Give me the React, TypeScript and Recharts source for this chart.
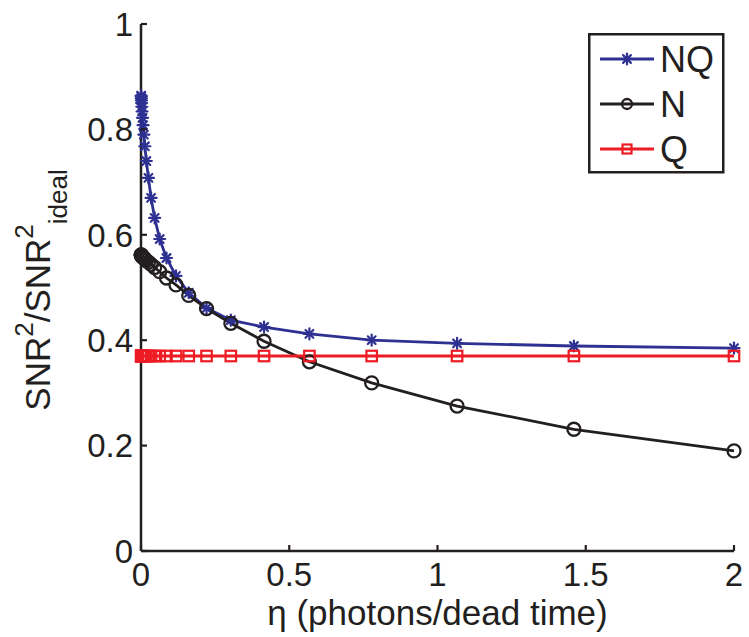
import React from 'react';
import { LineChart, Line, XAxis, YAxis } from 'recharts';

// eta (photons / dead time)
const X_VALUES = [0.0006, 0.0008, 0.0011, 0.0015, 0.002, 0.0027, 0.0037, 0.0051, 0.007, 0.0096, 0.013, 0.018, 0.025, 0.034, 0.046, 0.063, 0.086, 0.118, 0.161, 0.221, 0.303, 0.415, 0.568, 0.778, 1.066, 1.46, 2.0];
const NQ_VALUES = [0.864, 0.862, 0.859, 0.855, 0.85, 0.843, 0.834, 0.822, 0.808, 0.79, 0.768, 0.74, 0.708, 0.67, 0.632, 0.592, 0.556, 0.522, 0.49, 0.461, 0.438, 0.425, 0.412, 0.4, 0.394, 0.389, 0.385];
const N_VALUES = [0.562, 0.562, 0.561, 0.561, 0.56, 0.56, 0.559, 0.558, 0.557, 0.556, 0.554, 0.551, 0.548, 0.544, 0.538, 0.53, 0.518, 0.505, 0.485, 0.46, 0.432, 0.398, 0.359, 0.319, 0.275, 0.231, 0.19];
const Q_VALUES = [0.37, 0.37, 0.37, 0.37, 0.37, 0.37, 0.37, 0.37, 0.37, 0.37, 0.37, 0.37, 0.37, 0.37, 0.37, 0.37, 0.37, 0.37, 0.37, 0.37, 0.37, 0.37, 0.37, 0.37, 0.37, 0.37, 0.37];
const X_TICKS = [0, 0.5, 1, 1.5, 2];
const Y_TICKS = [0, 0.2, 0.4, 0.6, 0.8, 1];
const SERIES_NAMES = ['NQ', 'N', 'Q'];

const data = X_VALUES.map((x, i) => ({ x, nq: NQ_VALUES[i], n: N_VALUES[i], q: Q_VALUES[i] }));

const FONT = '"Liberation Sans", Arial, Helvetica, sans-serif';
const BLUE = '#2e3192';
const BLACK = '#231f20';
const RED = '#ed1c24';
const AXIS = '#231f20';

const Star = ({ cx, cy, r = 5.5, color = BLUE, sw = 2.2 }: any) => {
  const d = r * 0.7071;
  return (
    <g stroke={color} strokeWidth={sw} strokeLinecap="round">
      <line x1={cx - r} y1={cy} x2={cx + r} y2={cy} />
      <line x1={cx} y1={cy - r} x2={cx} y2={cy + r} />
      <line x1={cx - d} y1={cy - d} x2={cx + d} y2={cy + d} />
      <line x1={cx - d} y1={cy + d} x2={cx + d} y2={cy - d} />
    </g>
  );
};
const Circ = ({ cx, cy, r = 6.5 }: any) => (
  <circle cx={cx} cy={cy} r={r} fill="none" stroke={BLACK} strokeWidth={2.3} />
);
const Sq = ({ cx, cy, s = 10.5 }: any) => (
  <rect x={cx - s / 2} y={cy - s / 2} width={s} height={s} fill="none" stroke={RED} strokeWidth={2.2} />
);

const Y_MARGIN = 8;
const X_MARGIN = 12;

const YTick = (props: any) => {
  const { x, y, payload } = props;
  const ax = x + Y_MARGIN;
  return (
    <g>
      <line x1={ax} x2={ax + 6} y1={y} y2={y} stroke={AXIS} strokeWidth={2.2} />
      <text x={x} y={y} dy="0.36em" textAnchor="end" fontSize={33} fontFamily={FONT} fill={AXIS}>
        {String(payload.value)}
      </text>
    </g>
  );
};
const XTick = (props: any) => {
  const { x, y, payload } = props;
  const ay = y - X_MARGIN;
  return (
    <g>
      <line x1={x} x2={x} y1={ay} y2={ay - 6} stroke={AXIS} strokeWidth={2.2} />
      <text x={x} y={y} dy="0.71em" textAnchor="middle" fontSize={33} fontFamily={FONT} fill={AXIS}>
        {String(payload.value)}
      </text>
    </g>
  );
};

const XLabel = (props: any) => {
  const vb = props.viewBox || {};
  return (
    <text x={vb.x + vb.width / 2} y={vb.y + 74} textAnchor="middle" fontSize={35} fontFamily={FONT} fill={AXIS}>
      η (photons/dead time)
    </text>
  );
};
const YLabel = () => (
  <text transform="translate(50,290) rotate(-90)" textAnchor="middle" fontSize={35} fontFamily={FONT} fill={AXIS}>
    <tspan>SNR</tspan>
    <tspan fontSize={26} dy={-17}>2</tspan>
    <tspan dy={17}>/SNR</tspan>
    <tspan fontSize={26} dy={-17}>2</tspan>
    <tspan fontSize={26} dy={34}>ideal</tspan>
  </text>
);

const LegendBox = () => {
  const rows = [
    { name: SERIES_NAMES[0], color: BLUE, kind: 'star' },
    { name: SERIES_NAMES[1], color: BLACK, kind: 'circ' },
    { name: SERIES_NAMES[2], color: RED, kind: 'sq' },
  ];
  return (
    <svg width={137} height={141} style={{ display: 'block' }}>
      <rect x={1.25} y={1.25} width={134} height={138} fill="#fff" stroke={AXIS} strokeWidth={2.5} />
      {rows.map((r, i) => {
        const cy = 26 + i * 45;
        return (
          <g key={r.name}>
            <line x1={12} x2={66} y1={cy} y2={cy} stroke={r.color} strokeWidth={2.8} />
            {r.kind === 'star' && <Star cx={39} cy={cy} />}
            {r.kind === 'circ' && <Circ cx={39} cy={cy} r={5} />}
            {r.kind === 'sq' && <Sq cx={39} cy={cy} s={9} />}
            <text x={72} y={cy + 13} fontSize={36} fontFamily={FONT} fill={AXIS}>{r.name}</text>
          </g>
        );
      })}
    </svg>
  );
};

export default function App() {
  return (
    <div style={{ position: 'absolute', left: 0, top: 0, width: 749, height: 637, background: '#fff' }}>
      <LineChart width={749} height={637} data={data} margin={{ top: 24, right: 15, bottom: 0, left: 0 }}>
        <XAxis
          type="number"
          dataKey="x"
          domain={[0, 2]}
          ticks={X_TICKS}
          height={86}
          tickSize={0}
          tickMargin={X_MARGIN}
          tickLine={false}
          axisLine={{ stroke: AXIS, strokeWidth: 2.5 }}
          tick={<XTick />}
          interval={0}
          label={<XLabel />}
        />
        <YAxis
          type="number"
          domain={[0, 1]}
          ticks={Y_TICKS}
          width={141}
          tickSize={0}
          tickMargin={Y_MARGIN}
          tickLine={false}
          axisLine={{ stroke: AXIS, strokeWidth: 2.5 }}
          tick={<YTick />}
          interval={0}
          label={<YLabel />}
        />
        <Line
          dataKey="nq"
          name={SERIES_NAMES[0]}
          stroke={BLUE}
          strokeWidth={2.8}
          isAnimationActive={false}
          dot={(p: any) => <Star key={`nq-${p.index}`} cx={p.cx} cy={p.cy} />}
        />
        <Line
          dataKey="n"
          name={SERIES_NAMES[1]}
          stroke={BLACK}
          strokeWidth={2.8}
          isAnimationActive={false}
          dot={(p: any) => <Circ key={`n-${p.index}`} cx={p.cx} cy={p.cy} />}
        />
        <Line
          dataKey="q"
          name={SERIES_NAMES[2]}
          stroke={RED}
          strokeWidth={2.8}
          isAnimationActive={false}
          dot={(p: any) => <Sq key={`q-${p.index}`} cx={p.cx} cy={p.cy} />}
        />
      </LineChart>
      <div style={{ position: 'absolute', left: 588, top: 33 }}>
        <LegendBox />
      </div>
    </div>
  );
}
